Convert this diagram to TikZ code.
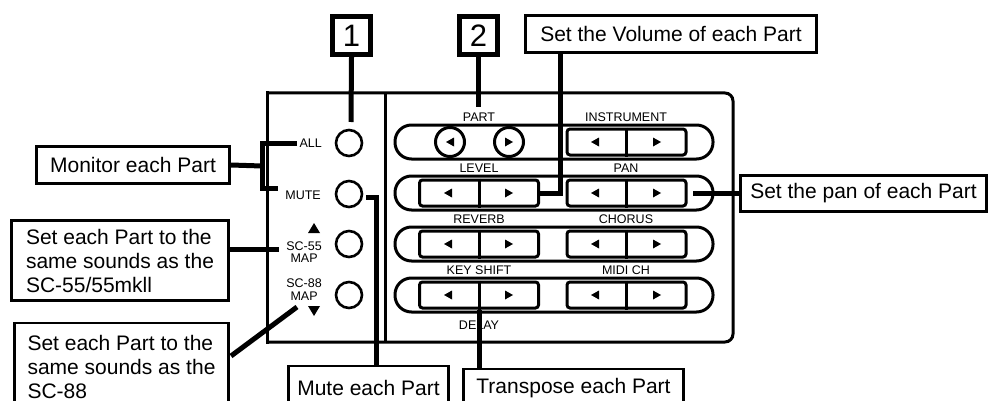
\documentclass[tikz,border=0pt]{standalone}
\usepackage{fontspec}
\setmainfont{Liberation Sans}
\begin{document}
\begin{tikzpicture}[x=1pt,y=-1pt,
  callout/.style={draw,line width=2.7pt,inner sep=0pt,align=left,font=\fontsize{21}{24}\selectfont},
  numbox/.style={draw,line width=5pt,inner sep=0pt,minimum size=38pt,font=\fontsize{31}{31}\selectfont},
  lbl/.style={inner sep=0pt,font=\fontsize{12.5}{12.5}\selectfont},
  conn/.style={line width=5pt},
  panel/.style={line width=3pt},
  pillst/.style={draw,line width=3pt,rounded corners=16.5pt,minimum width=318pt,minimum height=34pt,inner sep=0pt},
  btn/.style={draw,line width=3pt,rounded corners=3pt,minimum width=119pt,minimum height=26pt,inner sep=0pt},
  lcirc/.style={draw,circle,line width=2.6pt,minimum size=26pt,inner sep=0pt},
  pcirc/.style={draw,circle,line width=3pt,minimum size=29pt,inner sep=0pt},
  tri/.style={fill=black}
]
\useasboundingbox (0,0) rectangle (992,401);
\clip (0,0) rectangle (992,401);

% panel frame
\draw[panel,rounded corners=8pt] (267,93) -- (733,93) -- (733,342) -- (267,342);
\draw[panel,line cap=rect] (267,93) -- (267,342);
\draw[panel] (385,93) -- (385,342);

% left column
\node[lcirc] (call) at (349,143) {};
\node[lcirc] (cmute) at (349,194) {};
\node[lcirc] (c55) at (349,244) {};
\node[lcirc] (c88) at (349,295) {};
\node[lbl,anchor=east] (lall) at (322,143) {ALL};
\node[lbl,anchor=east] (lmute) at (321,195) {MUTE};
\node[lbl,anchor=east,align=center] (l55) at (322,252) {SC-55\\MAP};
\node[lbl,anchor=east,align=center] (l88) at (322,289.5) {SC-88\\MAP};
\fill[tri] (308,233) -- (320,233) -- (314,223) -- cycle;
\fill[tri] (308,306) -- (320,306) -- (314,316) -- cycle;

% right column rows
\foreach \y/\la/\lb in {142/PART/INSTRUMENT,193/LEVEL/PAN,244/REVERB/CHORUS,295/KEY SHIFT/MIDI CH}{
  \node[pillst] (pill\y) at (554,\y) {};
  \node[lbl] (la\y) at (479,\y-25) {\la};
  \node[lbl] (lb\y) at (626,\y-25) {\lb};
  \node[btn] (br\y) at (626.5,\y) {};
  \draw[line width=3pt] (br\y.north) -- (br\y.south);
  \fill[tri] (591,\y) -- (599,\y-4.5) -- (599,\y+4.5) -- cycle;
  \fill[tri] (661,\y) -- (653,\y-4.5) -- (653,\y+4.5) -- cycle;
}
\foreach \y in {193,244,295}{
  \node[btn] (bl\y) at (479,\y) {};
  \draw[line width=3pt] (bl\y.north) -- (bl\y.south);
  \fill[tri] (444,\y) -- (452,\y-4.5) -- (452,\y+4.5) -- cycle;
  \fill[tri] (513,\y) -- (505,\y-4.5) -- (505,\y+4.5) -- cycle;
}
\node[pcirc] (pleft) at (450,142) {};
\node[pcirc] (pright) at (509,142) {};
\fill[tri] (446,142) -- (454,137.5) -- (454,146.5) -- cycle;
\fill[tri] (513,142) -- (505,137.5) -- (505,146.5) -- cycle;
\node[lbl] (delay) at (479,325) {DELAY};

% callout boxes
\node[numbox] (b1) at (351.5,35.5) {1};
\node[numbox] (b2) at (478.5,35.5) {2};
\node[callout,minimum width=193pt,minimum height=37pt] (mon) at (133,165) {Monitor each Part};
\node[callout,minimum width=217pt,minimum height=80pt] (sc55) at (120,260.5) {Set each Part to the\\same sounds as the\\SC-55/55mkll};
\node[callout,minimum width=214pt,minimum height=88pt] (sc88) at (121.5,367) {Set each Part to the\\same sounds as the\\SC-88};
\node[callout,minimum width=160pt,minimum height=44pt] (mute) at (368.5,388) {Mute each Part};
\node[callout,minimum width=220pt,minimum height=38pt] (trans) at (573.5,388) {Transpose each Part};
\node[callout,minimum width=291pt,minimum height=37pt] (vol) at (671,34) {Set the Volume of each Part};
\node[callout,minimum width=246pt,minimum height=36pt] (pan) at (863.5,193.5) {Set the pan of each Part};

% connectors
\coordinate (c1end) at (351,122);
\draw[conn] (b1.south) -- (c1end);
\coordinate (c2end) at (478.5,107);
\draw[conn] (b2.south) -- (c2end);
\coordinate (volbend) at (560,193);
\draw[conn] (vol.south -| volbend) -- (volbend) -- (bl193.east);
\coordinate (panend) at (693,193);
\draw[conn] (panend -| pan.west) -- (panend);
\coordinate (mb) at (262,166);
\coordinate (ball) at (297,143);
\coordinate (bmute) at (278,188);
\draw[conn] (mon.east) -- (mb);
\draw[conn] (ball) -| (bmute -| mb) -- (bmute);
\coordinate (k55) at (279,249);
\draw[conn] (k55 -| sc55.east) -- (k55);
\coordinate (k88) at (297,307);
\coordinate (k88b) at (231,356);
\draw[conn] (k88b) -- (k88);
\coordinate (mbend) at (376,197);
\draw[conn,shorten <=3pt] (mbend -| cmute.east) -- (mbend) -- (mbend |- mute.north);
\draw[conn] (bl295.south) -- (bl295.south |- trans.north);
\end{tikzpicture}
\end{document}
